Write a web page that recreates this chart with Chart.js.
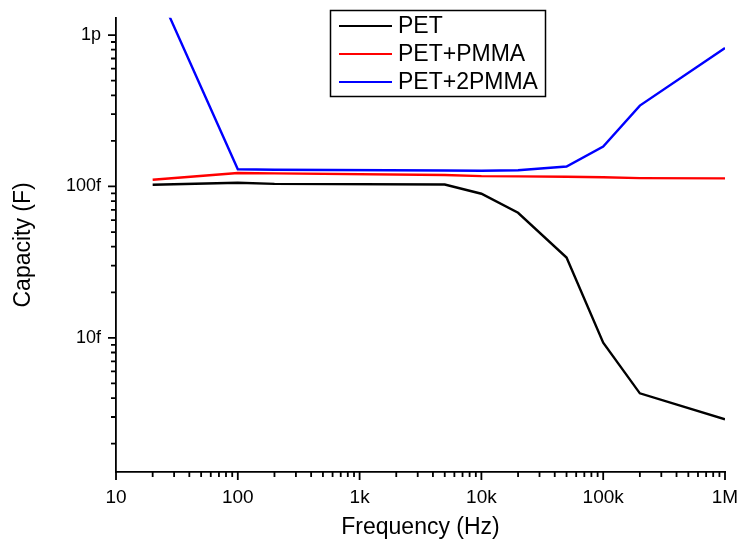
<!DOCTYPE html>
<html>
<head>
<meta charset="utf-8">
<script src="https://cdn.jsdelivr.net/npm/chart.js@4.4.1/dist/chart.umd.min.js"></script>
<style>
  html, body { margin: 0; padding: 0; background: #fff; }
</style>
</head>
<body>
<canvas id="chart" width="738" height="545"></canvas>
<script>
// frequency in Hz, capacity in fF
const freq = [20, 100, 200, 5000, 10000, 20000, 50000, 100000, 200000, 1000000];
const pet = [102.6, 105.8, 104, 103, 89.5, 67, 33.9, 9.3, 4.3, 2.9];
const petPmma = [110.7, 122.6, 122, 119, 117, 116.5, 116, 115, 113.5, 113];
const pet2Pmma = [2350, 130, 129, 127.5, 127, 128, 135.5, 183.5, 342, 820];

const xTickValues = [10, 100, 1000, 10000, 100000, 1000000];
const xTickLabels = ['10', '100', '1k', '10k', '100k', '1M'];
const yTickValues = [10, 100, 1000];
const yTickLabels = ['10f', '100f', '1p'];

const FONT = '"Liberation Sans", Arial, sans-serif';

const toPoints = vals => vals.map((v, i) => ({ x: freq[i], y: v }));

const labelFor = (value, values, labels) => {
    const i = values.findIndex(v => Math.abs(value - v) / v < 1e-9);
    return i >= 0 ? labels[i] : '';
};

// small and big tick marks on both axes
const tickMarks = {
    id: 'tickMarks',
    afterDraw(chart) {
        const { ctx, chartArea, scales: { x, y } } = chart;
        ctx.save();
        ctx.strokeStyle = '#000';
        ctx.lineWidth = 1.8;
        ctx.beginPath();
        for (let e = 0; e <= 6; e++) {
            for (let k = 1; k <= 9; k++) {
                const v = k * Math.pow(10, e);
                if (v < x.min - 1e-9 || v > x.max * (1 + 1e-9)) continue;
                const px = x.getPixelForValue(v);
                ctx.moveTo(px, chartArea.bottom);
                ctx.lineTo(px, chartArea.bottom + (k === 1 ? 8 : 5));
            }
        }
        for (let e = 0; e <= 3; e++) {
            for (let k = 1; k <= 9; k++) {
                const v = k * Math.pow(10, e);
                if (v < y.min || v > y.max) continue;
                const py = y.getPixelForValue(v);
                ctx.moveTo(chartArea.left, py);
                ctx.lineTo(chartArea.left - (k === 1 ? 8 : 5), py);
            }
        }
        ctx.stroke();
        ctx.restore();
    }
};

// boxed legend inside the plot
const boxLegend = {
    id: 'boxLegend',
    afterDraw(chart) {
        const ctx = chart.ctx;
        const x0 = 330.5, y0 = 10.5, w = 215, h = 86, rowH = 28;
        ctx.save();
        ctx.strokeStyle = '#000';
        ctx.lineWidth = 1.5;
        ctx.strokeRect(x0, y0, w, h);
        ctx.font = '23px ' + FONT;
        ctx.textBaseline = 'middle';
        ctx.fillStyle = '#000';
        chart.data.datasets.forEach((ds, i) => {
            const cy = 26 + i * rowH;
            ctx.strokeStyle = ds.borderColor;
            ctx.lineWidth = 2.2;
            ctx.beginPath();
            ctx.moveTo(339, cy);
            ctx.lineTo(392, cy);
            ctx.stroke();
            ctx.fillText(ds.label, 398, cy + 1);
        });
        ctx.restore();
    }
};

new Chart(document.getElementById('chart'), {
    type: 'line',
    data: {
        datasets: [
            { label: 'PET', data: toPoints(pet), borderColor: '#000000' },
            { label: 'PET+PMMA', data: toPoints(petPmma), borderColor: '#ff0000' },
            { label: 'PET+2PMMA', data: toPoints(pet2Pmma), borderColor: '#0000ff' }
        ]
    },
    options: {
        responsive: false,
        animation: false,
        layout: { padding: { top: 16, right: 13, left: 0, bottom: 0 } },
        elements: {
            line: { borderWidth: 2.4, tension: 0, fill: false },
            point: { radius: 0 }
        },
        plugins: {
            legend: { display: false },
            tooltip: { enabled: false }
        },
        scales: {
            x: {
                type: 'logarithmic',
                min: 10,
                max: 1000000,
                afterFit: s => { s.height = 73; s.paddingLeft = 0; s.paddingRight = 0; },
                grid: { display: false, drawTicks: true, tickLength: 8 },
                border: { display: true, color: '#000', width: 1.8 },
                ticks: {
                    autoSkip: false,
                    maxRotation: 0,
                    padding: 6,
                    color: '#000',
                    font: { family: FONT, size: 19 },
                    callback: v => labelFor(v, xTickValues, xTickLabels)
                },
                title: {
                    display: true,
                    text: 'Frequency (Hz)',
                    color: '#000',
                    font: { family: FONT, size: 23 },
                    padding: { top: 0, bottom: 4 }
                }
            },
            y: {
                type: 'logarithmic',
                min: 1.3,
                max: 1300,
                afterFit: s => { s.width = 116; },
                grid: { display: false, drawTicks: true, tickLength: 8 },
                border: { display: true, color: '#000', width: 1.8 },
                ticks: {
                    autoSkip: false,
                    padding: 7,
                    color: '#000',
                    font: { family: FONT, size: 18 },
                    callback: v => labelFor(v, yTickValues, yTickLabels)
                },
                title: {
                    display: true,
                    text: 'Capacity (F)',
                    color: '#000',
                    font: { family: FONT, size: 23 },
                    padding: { top: 10, bottom: 0 }
                }
            }
        }
    },
    plugins: [tickMarks, boxLegend]
});
</script>
</body>
</html>
